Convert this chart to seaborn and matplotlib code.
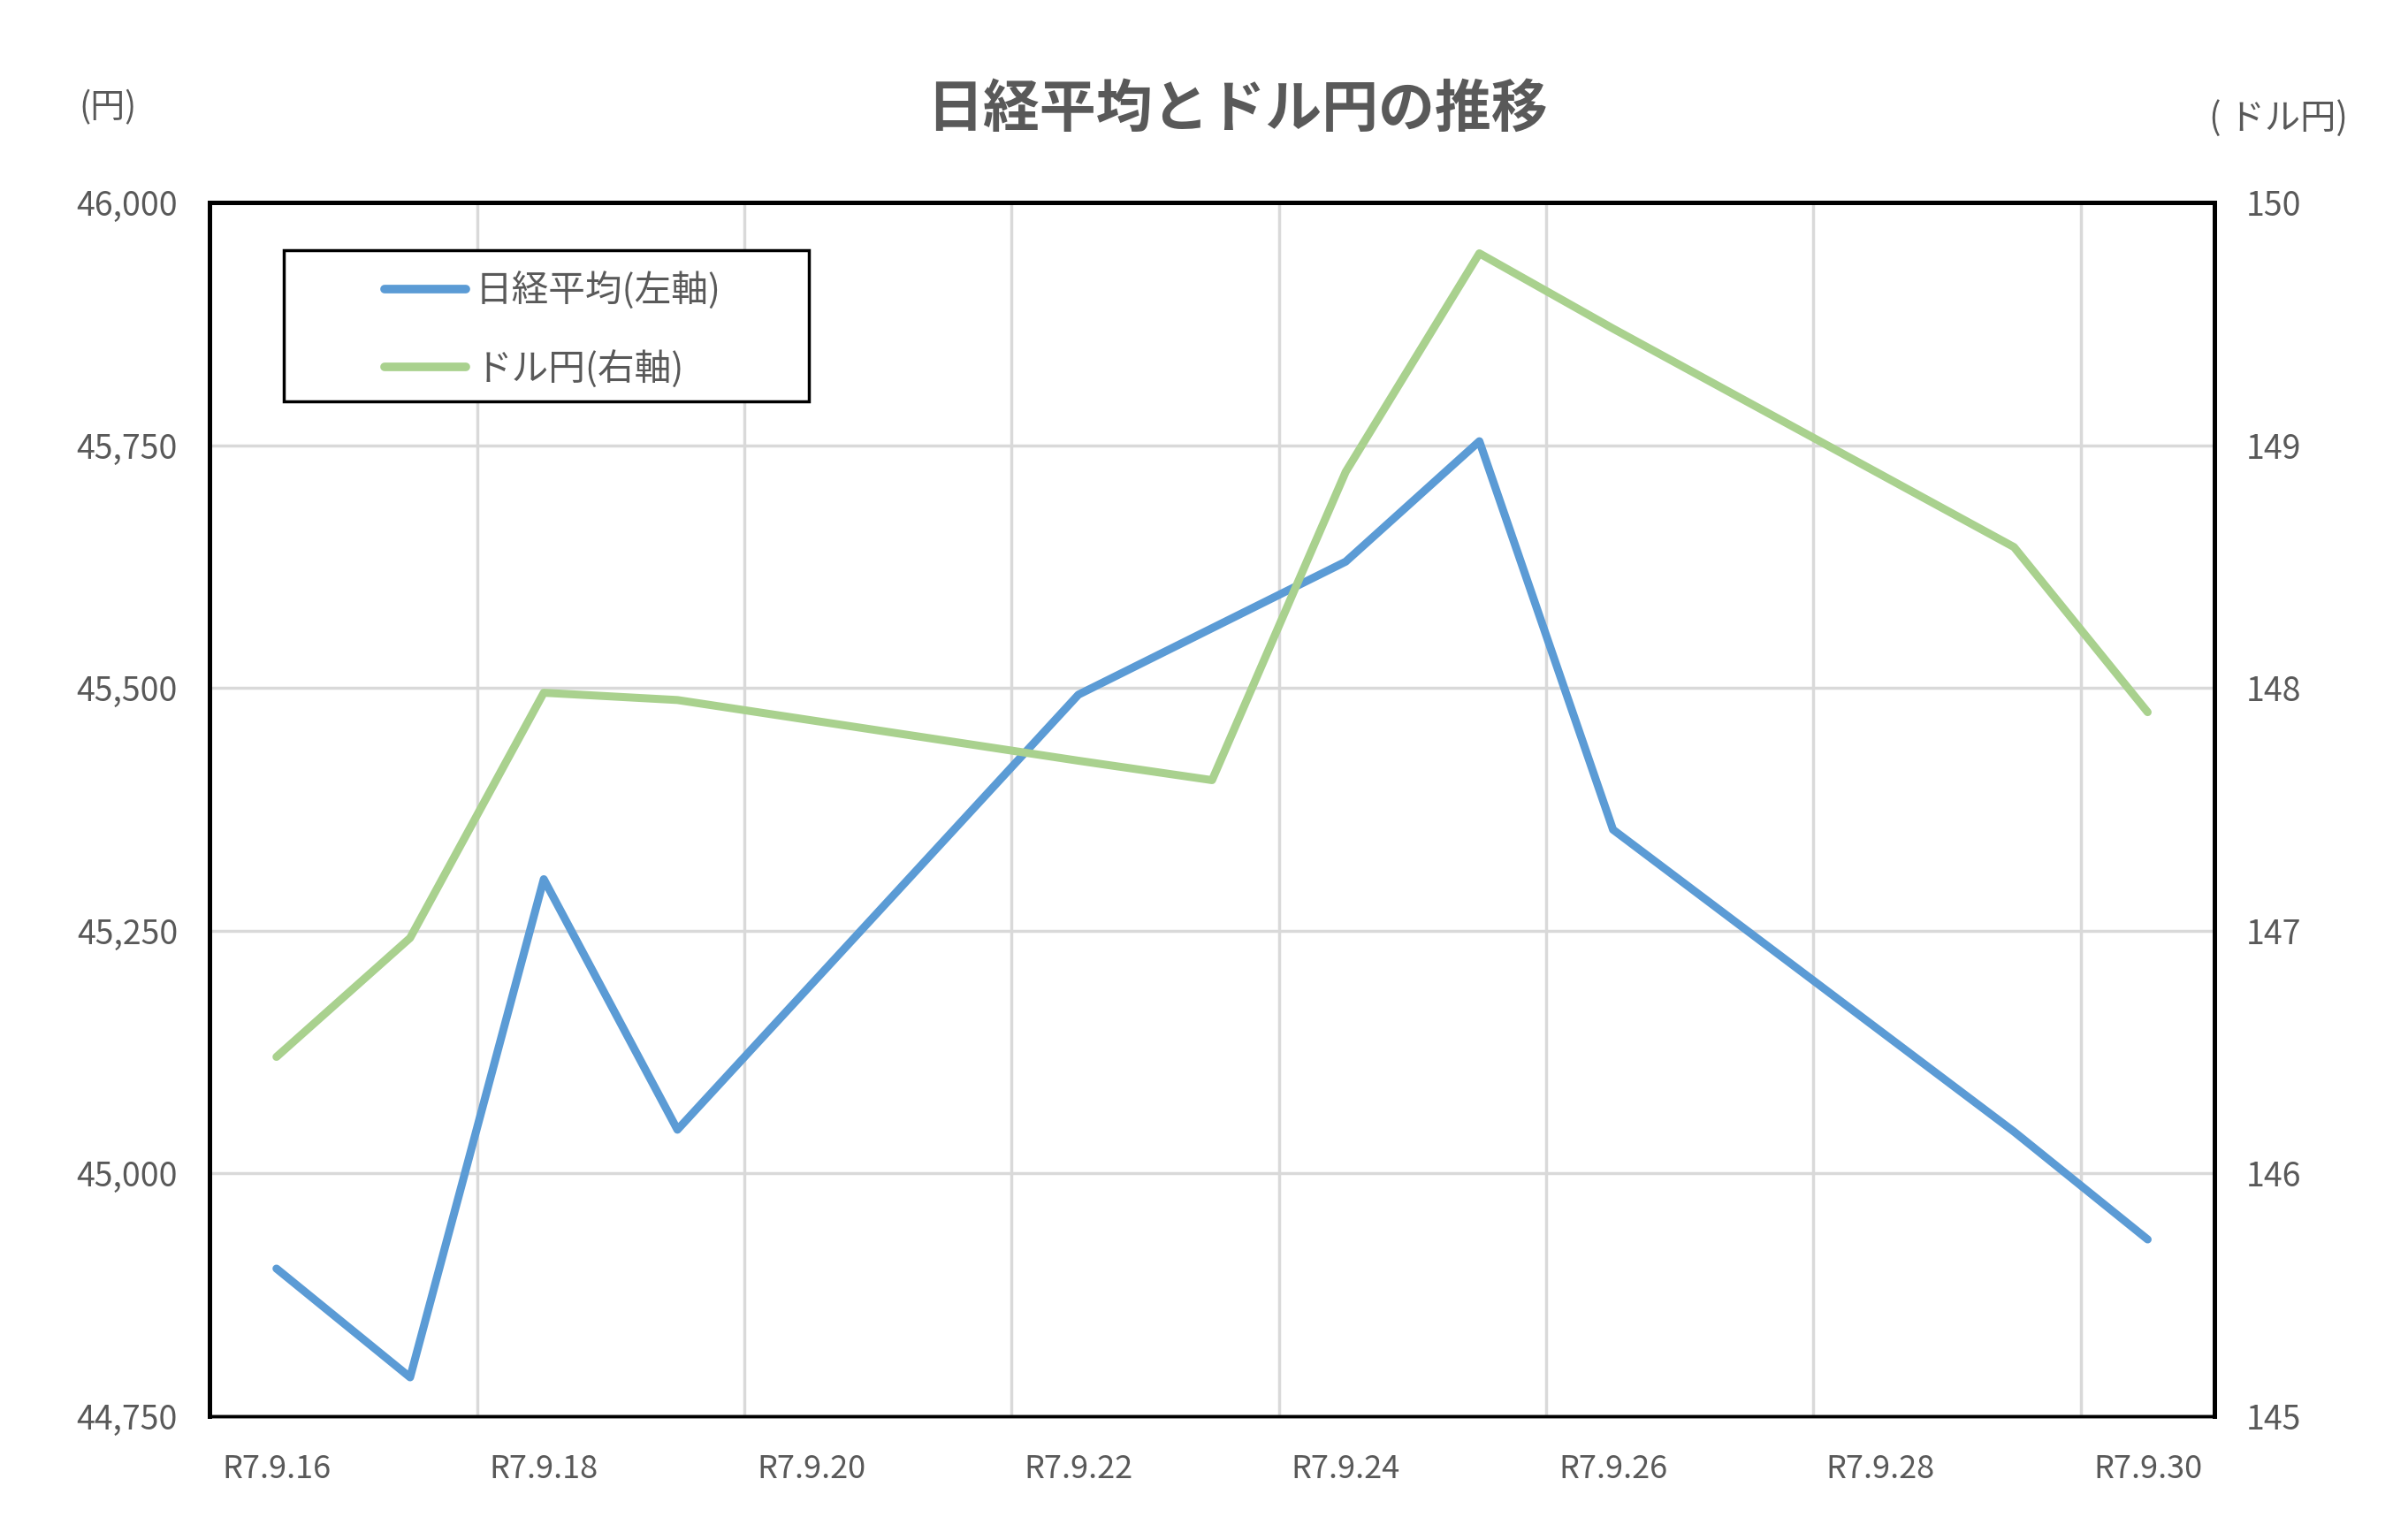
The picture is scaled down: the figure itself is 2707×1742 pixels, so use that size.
import pandas as pd
import matplotlib
matplotlib.use("Agg")
from matplotlib import pyplot as plt
from matplotlib.lines import Line2D
from matplotlib.patches import Rectangle
import matplotlib.dates as mdates
import seaborn as sns

# 日経平均 (左軸)
nikkei_dates = ["2025-09-16", "2025-09-17", "2025-09-18", "2025-09-19", "2025-09-22",
                "2025-09-24", "2025-09-25", "2025-09-26", "2025-09-29", "2025-09-30"]
nikkei_values = [44902, 44790, 45303, 45045, 45493, 45630, 45754, 45354, 45043, 44932]

# ドル円 (右軸)
usdjpy_dates = ["2025-09-16", "2025-09-17", "2025-09-18", "2025-09-19", "2025-09-22",
                "2025-09-23", "2025-09-24", "2025-09-25", "2025-09-26", "2025-09-29",
                "2025-09-30"]
usdjpy_values = [146.48, 146.97, 147.98, 147.95, 147.70, 147.62, 148.89, 149.79,
                 149.48, 148.58, 147.90]

label_dates = ["2025-09-16", "2025-09-18", "2025-09-20", "2025-09-22",
               "2025-09-24", "2025-09-26", "2025-09-28", "2025-09-30"]
date_labels = ["R7.9.16", "R7.9.18", "R7.9.20", "R7.9.22",
               "R7.9.24", "R7.9.26", "R7.9.28", "R7.9.30"]
left_ticks = [44750, 45000, 45250, 45500, 45750, 46000]
right_ticks = [145, 146, 147, 148, 149, 150]

BLUE = "#5B9BD5"
GREEN = "#A9D18E"
TEXT = "#595959"
GRID = "#D9D9D9"

sns.set_theme(style="white")
plt.rcParams["font.family"] = ["Noto Sans CJK JP", "DejaVu Sans"]

df_n = pd.DataFrame({"date": pd.to_datetime(nikkei_dates), "value": nikkei_values})
df_u = pd.DataFrame({"date": pd.to_datetime(usdjpy_dates), "value": usdjpy_values})

fig = plt.figure(figsize=(27.07, 17.42), dpi=100)
ax = fig.add_axes([0.0876, 0.0804, 0.8378, 0.7882])
ax2 = ax.twinx()

sns.lineplot(data=df_n, x="date", y="value", ax=ax, color=BLUE, linewidth=6.5,
             legend=False, solid_capstyle="round", solid_joinstyle="round")
sns.lineplot(data=df_u, x="date", y="value", ax=ax2, color=GREEN, linewidth=6.5,
             legend=False, solid_capstyle="round", solid_joinstyle="round")

half = pd.Timedelta(hours=12)
lab_dt = pd.to_datetime(label_dates)
ax.set_xlim(lab_dt[0] - half, lab_dt[-1] + half)
ax.set_ylim(left_ticks[0], left_ticks[-1])
ax2.set_ylim(right_ticks[0], right_ticks[-1])

# boundaries between date bands (gridlines + small ticks)
bounds = [d - half for d in lab_dt]
ax.set_xticks(mdates.date2num(bounds))
ax.set_xticklabels([])
ax.set_xticks(mdates.date2num(lab_dt), minor=True)
ax.set_xticklabels(date_labels, minor=True)
ax.tick_params(axis="x", which="major", length=10, width=2, color=GRID, direction="out")
ax.tick_params(axis="x", which="minor", length=0, pad=30, labelsize=26, labelcolor=TEXT)

ax.set_yticks(left_ticks)
ax.set_yticklabels([f"{v:,}" for v in left_ticks])
ax.tick_params(axis="y", length=0, pad=26, labelsize=27, labelcolor=TEXT)
ax2.set_yticks(right_ticks)
ax2.set_yticklabels([str(v) for v in right_ticks])
ax2.tick_params(axis="y", length=0, pad=26, labelsize=27, labelcolor=TEXT)

ax.grid(True, axis="both", which="major", color=GRID, linewidth=2.5)
ax2.grid(False)
ax.set_xlabel("")
ax.set_ylabel("")
ax2.set_ylabel("")

for a in (ax, ax2):
    for side in ("left", "right", "top"):
        a.spines[side].set_color("black")
        a.spines[side].set_linewidth(3.5)
    a.spines["bottom"].set_color("black")
    a.spines["bottom"].set_linewidth(2.5)

# legend box
ax2.add_patch(Rectangle((0.037, 0.836), 0.262, 0.1247, transform=ax2.transAxes,
                        facecolor="white", edgecolor="black", linewidth=2.5, zorder=5))
handles = [Line2D([], [], color=BLUE, linewidth=7, solid_capstyle="round"),
           Line2D([], [], color=GREEN, linewidth=7, solid_capstyle="round")]
leg = ax2.legend(handles, ["日経平均(左軸)", "ドル円(右軸)"], loc="upper left",
                 bbox_to_anchor=(0.0873, 0.943), frameon=False, fontsize=30,
                 handlelength=2.2, handletextpad=0.25, labelspacing=1.1,
                 borderpad=0, borderaxespad=0, labelcolor=TEXT)
leg.set_zorder(6)

fig.text(0.517, 0.929, "日経平均とドル円の推移", ha="center", va="center",
         fontsize=46, fontweight="bold", color=TEXT)
fig.text(0.045, 0.930, "(円)", ha="center", va="center", fontsize=28, color=TEXT)
fig.text(0.952, 0.923, "( ドル円)", ha="center", va="center", fontsize=29, color=TEXT)

fig.savefig("out.png", dpi=100)
